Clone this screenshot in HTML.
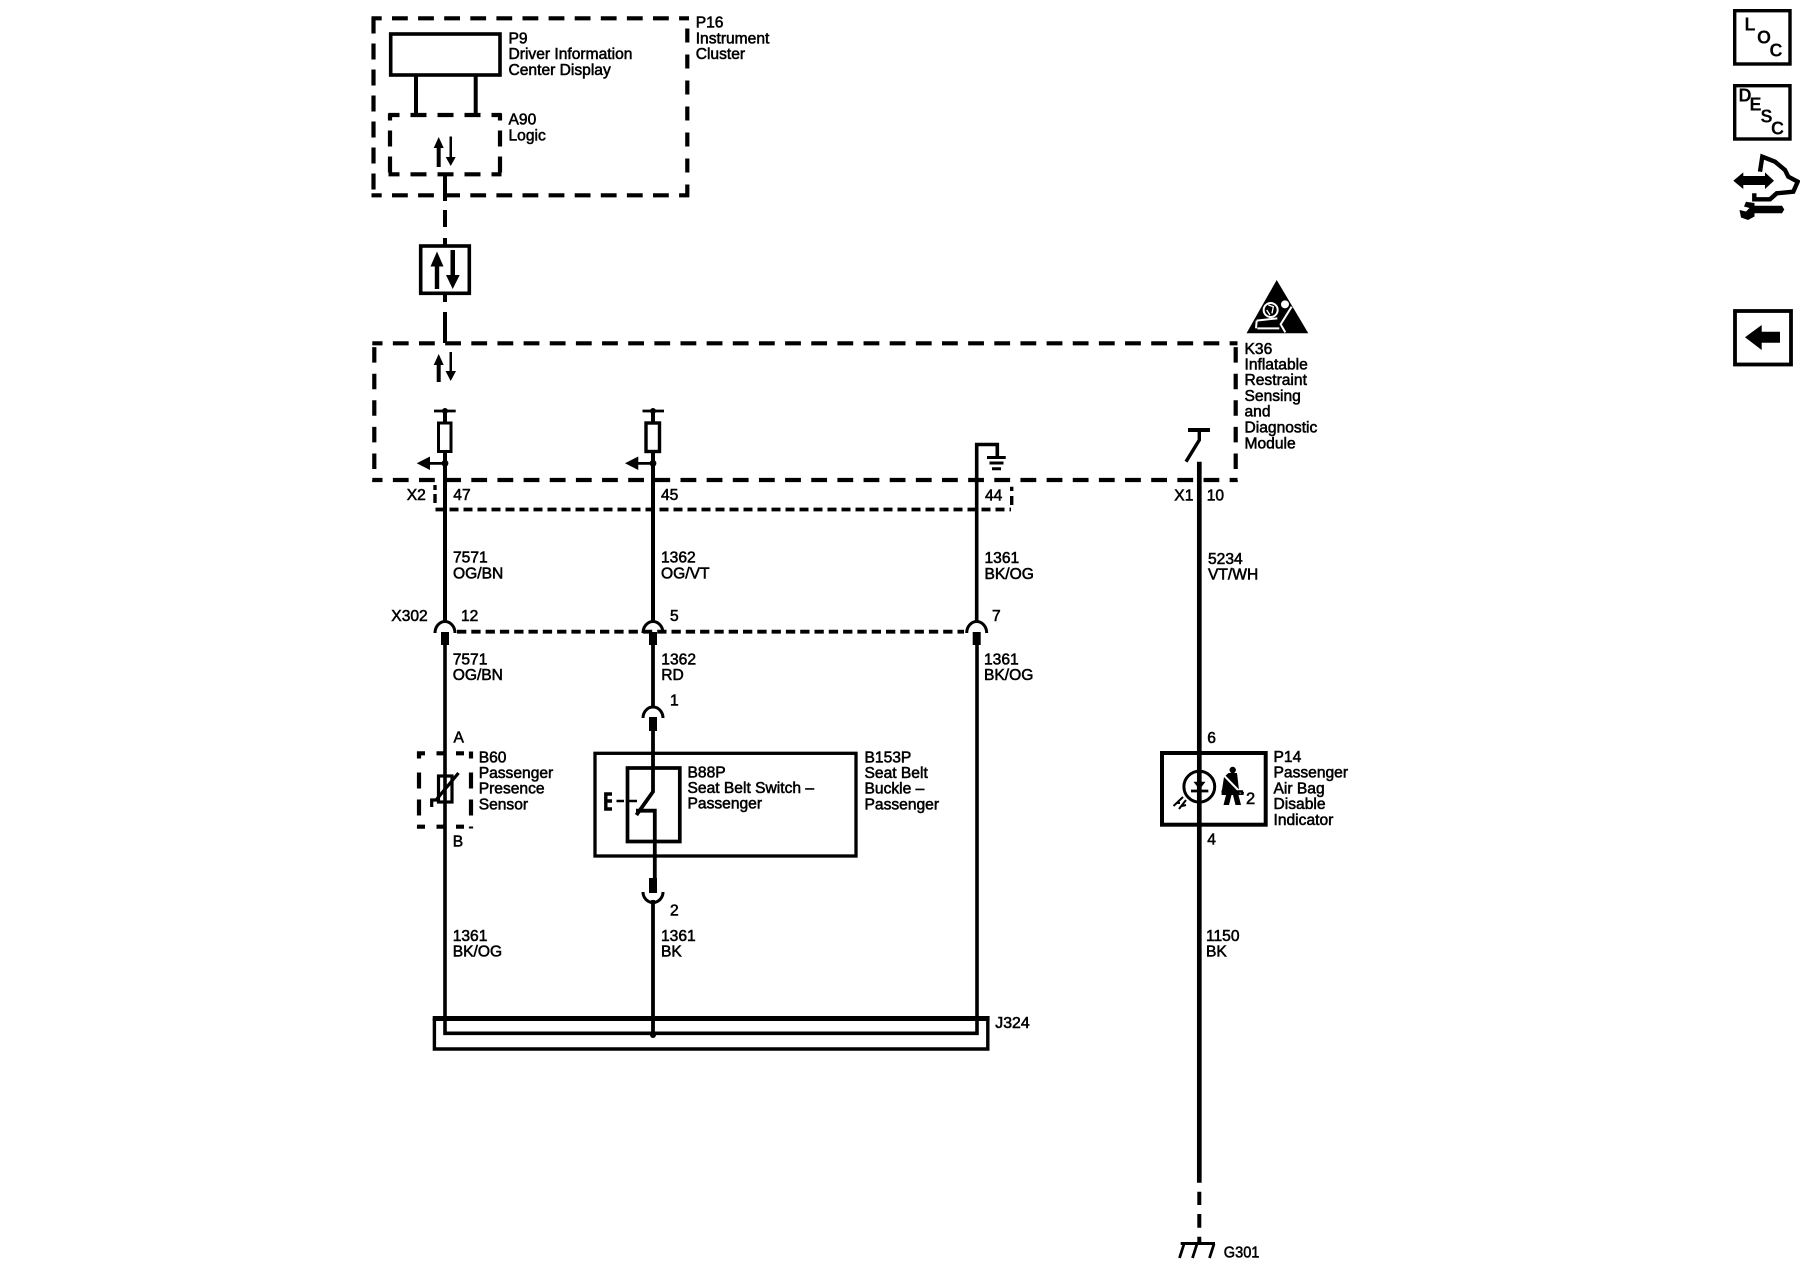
<!DOCTYPE html>
<html lang="en"><head><meta charset="utf-8"><title>Wiring diagram</title>
<style>
html,body{margin:0;padding:0;background:#fff}
svg{display:block}
text{font-family:"Liberation Sans",Arial,sans-serif;font-size:15.6px;fill:#000;stroke:#000;stroke-width:.55px}
.b{font-weight:bold;font-size:18px;stroke-width:0}
</style></head><body>
<svg width="1800" height="1280" viewBox="0 0 1800 1280" xmlns="http://www.w3.org/2000/svg">
<rect width="1800" height="1280" fill="#fff"/>
<g fill="none" stroke="#000">
<!-- P16 dashed box -->
<g stroke-width="4.2">
<line x1="371.5" y1="18.3" x2="689" y2="18.3" stroke-dasharray="15.8 10.3" stroke-dashoffset="5.6"/>
<line x1="371.5" y1="195.3" x2="689" y2="195.3" stroke-dasharray="15.8 10.3" stroke-dashoffset="5.6"/>
<line x1="373.5" y1="16.5" x2="373.5" y2="197" stroke-dasharray="16 10" stroke-dashoffset="25"/>
<line x1="687.3" y1="16.5" x2="687.3" y2="197" stroke-dasharray="14 12" stroke-dashoffset="14"/>
<!-- A90 dashed box -->
<line x1="388.5" y1="115" x2="501.5" y2="115" stroke-dasharray="16 11" stroke-dashoffset="5"/>
<line x1="388.5" y1="174.3" x2="501.5" y2="174.3" stroke-dasharray="16 11" stroke-dashoffset="5"/>
<line x1="390" y1="113.5" x2="390" y2="176" stroke-dasharray="16 10" stroke-dashoffset="9"/>
<line x1="500" y1="113.5" x2="500" y2="176" stroke-dasharray="16 10" stroke-dashoffset="9"/>
<!-- K36 dashed box -->
<line x1="372.3" y1="343.3" x2="1237.5" y2="343.3" stroke-dasharray="15.8 10.35" stroke-dashoffset="5.6"/>
<line x1="372.3" y1="480" x2="1237.5" y2="480" stroke-dasharray="15.8 10.35" stroke-dashoffset="5.6"/>
<line x1="374.3" y1="341.5" x2="374.3" y2="482" stroke-dasharray="15.5 11.1" stroke-dashoffset="21"/>
<line x1="1235.7" y1="341.5" x2="1235.7" y2="482" stroke-dasharray="15.5 11.1" stroke-dashoffset="21"/>
<!-- B60 dashed box -->
<line x1="417" y1="753.3" x2="473" y2="753.3" stroke-dasharray="8 11.5 8 11.5 8 11.5 8"/>
<line x1="417" y1="826.7" x2="473" y2="826.7" stroke-dasharray="8 11.5 8 11.5 8 11.5 8"/>
<line x1="419" y1="751.5" x2="419" y2="828.5" stroke-dasharray="7 14 16 11 16 11 7"/>
<line x1="471" y1="751.5" x2="471" y2="828.5" stroke-dasharray="7 14 16 11 16 11 7"/>
</g>
<!-- P9 -->
<rect x="390.7" y="34" width="109.3" height="41" stroke-width="3.6"/>
<path d="M416 75V115M475.7 75V115" stroke-width="4"/>
<!-- Bus connection vertical -->
<path d="M445 174V201" stroke-width="4"/>
<path d="M445 210V227M445 238V246M445 294V302M445 312V343" stroke-width="4"/>
<rect x="420.7" y="246" width="48.6" height="47.3" stroke-width="3.6"/>
<!-- Short dashed X2 / X302 -->
<g stroke-width="3.8">
<line x1="435.5" y1="509.5" x2="1011" y2="509.5" stroke-dasharray="9 5"/>
<path d="M435 485V490M435 494V503M1011.7 486.7V491M1011.7 496V505" stroke-width="3.4"/>
<line x1="457" y1="631.7" x2="964" y2="631.7" stroke-dasharray="9.3 5"/>
</g>
<!-- Wires -->
<path d="M445 411V621" stroke-width="4"/>
<path d="M653 411V621" stroke-width="4"/>
<path d="M976.7 621V444.5H997.3V457" stroke-width="3.6"/>
<path d="M445 640V1033.3H977V640" stroke-width="3.6"/>
<path d="M653 640V707" stroke-width="3.8"/>
<path d="M653 725V791.7L636.4 815" stroke-width="3.8"/>
<path d="M636 810.7H654.8V885" stroke-width="3.8"/>
<path d="M653 900V1034" stroke-width="3.8"/>
<path d="M1199.3 461.7V1182.7" stroke-width="4.7"/>
<path d="M1199.3 1191.7V1205M1199.3 1214V1227.7M1199.3 1236.7V1243" stroke-width="4"/>
<!-- T bars -->
<path d="M434 411H455.7M642.5 411H664" stroke-width="2.8"/>
<!-- Connector arcs -->
<g stroke-width="3">
<path d="M435 633A10 11.5 0 0 1 455 633M643 633A10 11.5 0 0 1 663 633M966.7 633A10 11.5 0 0 1 986.7 633"/>
<path d="M643 718A10 11 0 0 1 663 718"/>
<path d="M643 892A10 10.5 0 0 0 663 892"/>
</g>
<!-- Fuses -->
<rect x="438.5" y="423" width="12.5" height="28.5" fill="#fff" stroke-width="3"/>
<rect x="646" y="423" width="13.5" height="28.5" fill="#fff" stroke-width="3.4"/>
<!-- Ground at K36 -->
<path d="M987 457.5H1005.7M989.5 463H1003.5M992 468.7H1001" stroke-width="3"/>
<!-- Switch K36 X1 -->
<path d="M1188 430H1210" stroke-width="4"/>
<path d="M1199.3 428V440L1186 461.7" stroke-width="3.4"/>
<!-- B60 sensor -->
<rect x="438.5" y="776" width="13.5" height="26" stroke-width="3.2"/>
<path d="M431.7 807V800H436L458.5 773" stroke-width="3.2"/>
<!-- B153P / B88P -->
<rect x="595" y="753.3" width="261" height="102.7" stroke-width="3.3"/>
<rect x="627.5" y="768" width="52.3" height="73.5" stroke-width="3.7"/>
<path d="M612 794H605.8V809H612M605.8 801H612" stroke-width="3.4"/>
<path d="M616.5 801H624M629 801H637M645 801H648" stroke-width="2.6"/>
<!-- P14 -->
<rect x="1162" y="753" width="103.7" height="71.7" stroke-width="4"/>
<circle cx="1199.3" cy="786.7" r="15.4" stroke-width="3"/>
<path d="M1191 791H1208.3" stroke-width="2.8"/>
<path d="M1173.5 806L1183 797M1179 809L1186 800M1176 803L1180 803M1182 806L1186 805" stroke-width="2"/>
<!-- G301 -->
<path d="M1180.7 1243.5H1215" stroke-width="3"/>
<path d="M1184 1244L1179.5 1258M1197 1244L1192.5 1258M1214 1244L1209.5 1258" stroke-width="2.8"/>
<!-- J324 -->
<path d="M434.4 1018.5V1049H987.8V1018.5" stroke-width="3.4"/>
<path d="M432.7 1018.5H989.6" stroke-width="5"/>
<!-- Icon boxes -->
<rect x="1734.7" y="10.7" width="55.3" height="53.3" stroke-width="3.4"/>
<rect x="1734.7" y="85.7" width="55.3" height="53.3" stroke-width="3.4"/>
<rect x="1735" y="311" width="56" height="53.5" stroke-width="3.8"/>
<path d="M1760 171.7L1762.3 156.7L1775 161.7L1785 170L1788.3 176.7L1797.7 181.7L1793.3 191.7L1776.7 193.3L1770 199.3H1754.3V193.3" stroke-width="4.4"/>
</g>
<!-- Filled shapes -->
<g fill="#000" stroke="none">
<!-- arrows A90 -->
<path d="M436.7 167V148H433.7L438.7 137L443.7 148H440.7V167Z"/>
<path d="M449.5 136.5H452V157H455.7L450.7 166L445.7 157H449.5Z"/>
<!-- arrows bus box -->
<path d="M434.8 289V266.5H430.5L437 251.5L443.5 266.5H439.2V289Z"/>
<path d="M450.5 250H455V275H459.7L452.7 289L446 275H450.5Z"/>
<!-- arrows K36 -->
<path d="M436.7 382V365H433.7L438.7 354L443.7 365H440.7V382Z"/>
<path d="M449.5 352H452V371H456L450.7 381L445.5 371H449.5Z"/>
<!-- left arrows -->
<path d="M416.7 463.3L430 456.5V462H445V464.7H430V470Z"/>
<path d="M625 463.3L638.3 456.5V462H653V464.7H638.3V470Z"/>
<circle cx="445" cy="463.3" r="3.4"/><circle cx="653" cy="463.3" r="3.4"/>
<circle cx="445" cy="411" r="3"/><circle cx="653" cy="411" r="3"/>
<circle cx="653" cy="1035" r="3"/>
<!-- squares -->
<rect x="441" y="632" width="8" height="13"/>
<rect x="649" y="632" width="8" height="13"/>
<rect x="972.7" y="632" width="8" height="13"/>
<rect x="649" y="717" width="8" height="14"/>
<rect x="649" y="878" width="8" height="15"/>
<!-- triangle P14 icons -->
<path d="M1193.5 781.7H1205.5L1199.5 789.5Z"/>
<!-- seat belt figure -->
<circle cx="1232.7" cy="770" r="3.2"/>
<path d="M1228.5 773H1237L1239 790L1244 792L1243.5 795H1238.5L1241 805H1235.5L1233 795H1231.5L1229 805H1223.5L1226 795H1221.5L1222 790L1224 777Z"/>
<path d="M1223.5 775L1241 793" stroke="#fff" stroke-width="2" fill="none"/>
<path d="M1221.5 791.5H1243" stroke="#000" stroke-width="2.4" fill="none"/>
<!-- airbag triangle -->
<path d="M1276.7 280L1308.3 333.3H1246.5Z"/>
<!-- LOC etc icons -->
<path d="M1733.3 180.7L1743.3 172.4V176H1765V172.4L1774 180.7L1765 189V185H1743.3V189Z"/>
<path d="M1750 205.7H1782L1784.3 209.5L1782 213.3H1750Z"/>
<path d="M1746 201.7L1754.5 203V216.5L1748 220L1741 217.5L1739.5 210L1746 211.5L1749.5 208L1744 206.5Z"/>
<path d="M1745 337.3L1761.7 325V331.7H1780V342.7H1761.7V350Z"/>
</g>
<!-- Airbag figure -->
<g transform="translate(1240 275) scale(.3333)" fill="none" stroke="#fff" stroke-width="6">
<circle cx="92" cy="105" r="21"/>
<circle cx="135" cy="88" r="9" fill="#fff"/>
<path d="M155 95L122 148L136 172M50 137L112 130M52 160L118 160M50 137L48 160"/>
<path d="M85 90L100 95L96 115M80 105L90 120" stroke-width="4"/>
</g>
<!-- Labels -->
<text x="695.7" y="27.3">P16</text><text x="695.7" y="43.3">Instrument</text><text x="695.7" y="59">Cluster</text>
<text x="508.5" y="43.3">P9</text><text x="508.5" y="59">Driver Information</text><text x="508.5" y="75">Center Display</text>
<text x="508.5" y="124.5">A90</text><text x="508.5" y="140.5">Logic</text>
<text x="1244.5" y="354">K36</text><text x="1244.5" y="369.5">Inflatable</text><text x="1244.5" y="385">Restraint</text><text x="1244.5" y="401">Sensing</text><text x="1244.5" y="416.7">and</text><text x="1244.5" y="432.3">Diagnostic</text><text x="1244.5" y="448.3">Module</text>
<text x="406.7" y="500">X2</text><text x="453.3" y="500">47</text><text x="661" y="500">45</text><text x="985" y="500.7">44</text><text x="1174.3" y="500.7">X1</text><text x="1206.7" y="500.7">10</text>
<text x="453" y="562.3">7571</text><text x="453" y="578.3">OG/BN</text>
<text x="661" y="562.3">1362</text><text x="661" y="578.3">OG/VT</text>
<text x="984.5" y="563">1361</text><text x="984.5" y="579">BK/OG</text>
<text x="1208" y="564">5234</text><text x="1208" y="579.5">VT/WH</text>
<text x="391.3" y="621">X302</text><text x="461" y="621">12</text><text x="670" y="621">5</text><text x="992" y="621">7</text>
<text x="452.7" y="664.3">7571</text><text x="452.7" y="680">OG/BN</text>
<text x="661.3" y="664.3">1362</text><text x="661.3" y="680">RD</text>
<text x="984" y="664.3">1361</text><text x="984" y="680">BK/OG</text>
<text x="670" y="705.7">1</text>
<text x="453.5" y="742.3">A</text><text x="452.7" y="846.7">B</text>
<text x="478.7" y="762.3">B60</text><text x="478.7" y="778">Passenger</text><text x="478.7" y="793.7">Presence</text><text x="478.7" y="809.5">Sensor</text>
<text x="687.5" y="777.3">B88P</text><text x="687.5" y="793">Seat Belt Switch –</text><text x="687.5" y="808.7">Passenger</text>
<text x="864.5" y="762.3">B153P</text><text x="864.5" y="778">Seat Belt</text><text x="864.5" y="793.7">Buckle –</text><text x="864.5" y="809.4">Passenger</text>
<text x="670" y="915.3">2</text>
<text x="452.7" y="941">1361</text><text x="452.7" y="956.7">BK/OG</text>
<text x="661" y="941">1361</text><text x="661" y="956.7">BK</text>
<text x="1206" y="941">1150</text><text x="1206" y="956.7">BK</text>
<text x="1207.3" y="743">6</text><text x="1207.3" y="844.3">4</text>
<text x="1273.5" y="762">P14</text><text x="1273.5" y="777.7">Passenger</text><text x="1273.5" y="793.3">Air Bag</text><text x="1273.5" y="809">Disable</text><text x="1273.5" y="825">Indicator</text>
<text x="1246" y="804" style="font-size:16.5px">2</text>
<text x="995.3" y="1028" textLength="34.4" lengthAdjust="spacingAndGlyphs">J324</text>
<text x="1223.8" y="1257.7" textLength="35.6" lengthAdjust="spacingAndGlyphs">G301</text>
<text class="b" x="1744.5" y="30.7">L</text><text class="b" x="1757" y="43.5">O</text><text class="b" x="1769.5" y="56.5">C</text>
<text class="b" x="1738.5" y="101.7">D</text><text class="b" x="1749.5" y="110.7">E</text><text class="b" x="1760.5" y="122.5">S</text><text class="b" x="1771" y="134.5">C</text>
</svg>
</body></html>
